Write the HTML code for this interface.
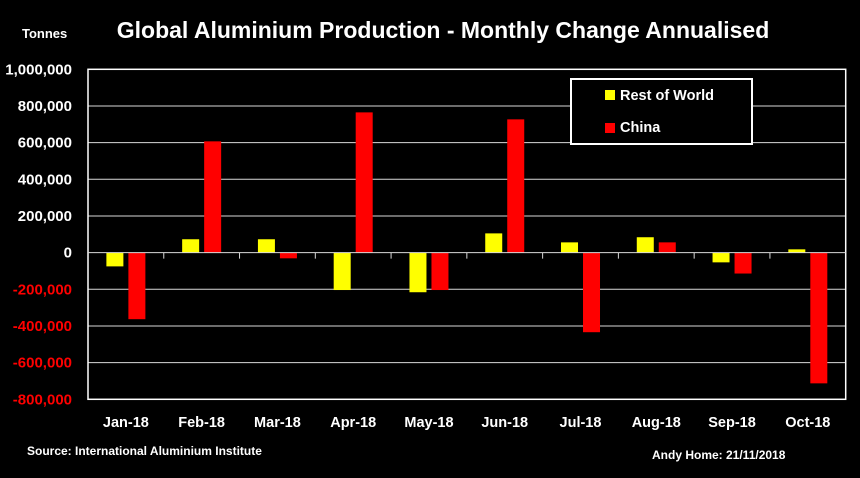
<!DOCTYPE html>
<html><head><meta charset="utf-8"><style>
html,body{margin:0;padding:0;background:#000;}
body{width:860px;height:473px;overflow:hidden;font-family:"Liberation Sans",sans-serif;}
svg text{font-family:"Liberation Sans",sans-serif;font-weight:bold;}
</style></head><body>
<svg id="chart" width="860" height="473" viewBox="0 0 860 473" xmlns="http://www.w3.org/2000/svg">
<rect width="860" height="473" fill="#000"/>
<text x="443" y="38" text-anchor="middle" fill="#fff" font-size="23">Global Aluminium Production - Monthly Change Annualised</text>
<text x="22" y="38" fill="#fff" font-size="13">Tonnes</text>
<g id="grid"></g>
<g id="bars"></g>
<rect x="88" y="69.3" width="757.7" height="330" fill="none" stroke="#fff" stroke-width="1.5"/>
<g id="ticks"></g>
<g>
<rect x="571" y="79" width="181" height="65" fill="#000" stroke="#fff" stroke-width="2"/>
<rect x="605" y="90" width="10" height="10" fill="#ffff00"/>
<text x="620" y="100" fill="#fff" font-size="14.5">Rest of World</text>
<rect x="605" y="123" width="10" height="10" fill="#ff0000"/>
<text x="620" y="132" fill="#fff" font-size="14.5">China</text>
</g>
<text x="27" y="455" fill="#fff" font-size="12">Source: International Aluminium Institute</text>
<text x="652" y="459" fill="#fff" font-size="12">Andy Home: 21/11/2018</text>
</svg>
<script>
const categories = ["Jan-18","Feb-18","Mar-18","Apr-18","May-18","Jun-18","Jul-18","Aug-18","Sep-18","Oct-18"];
const restOfWorld = [-75000,73000,73000,-204000,-216000,105000,56000,84000,-53000,18000];
const china = [-363000,607000,-31000,765000,-204000,727000,-434000,56000,-114000,-713000];
const yTicks = [1000000,800000,600000,400000,200000,0,-200000,-400000,-600000,-800000];
const yTickLabels = ["1,000,000","800,000","600,000","400,000","200,000","0","-200,000","-400,000","-600,000","-800,000"];

const NS="http://www.w3.org/2000/svg";
const X0=88, X1=845.7, YTOP=69.3, YBOT=399.3, VMAX=1000000, VMIN=-800000;
const y = v => YTOP + (VMAX - v) / (VMAX - VMIN) * (YBOT - YTOP);
const band = (X1 - X0) / categories.length;
const xc = i => X0 + band * (i + 0.5);
function mk(tag, attrs){const e=document.createElementNS(NS,tag);for(const k in attrs)e.setAttribute(k,attrs[k]);return e;}
const grid=document.getElementById('grid'), bars=document.getElementById('bars'), ticks=document.getElementById('ticks');
yTicks.forEach((t,i)=>{
  if(t!==0 && t!==VMAX && t!==VMIN){
    const l=mk('line',{x1:X0,x2:X1,y1:y(t),y2:y(t),stroke:'#d9d9d9','stroke-width':1});
    
    
    grid.appendChild(l);
  }
  const tx=mk('text',{x:72,y:y(t)+5,'text-anchor':'end','font-size':15,fill:t<0?'#ff0000':'#fff'});
  tx.textContent=yTickLabels[i];
  
  
  ticks.appendChild(tx);
});
const BW=17, OFF=11;
categories.forEach((c,i)=>{
  [[restOfWorld[i],'#ffff00',-OFF,'bar-rest-of-world'],[china[i],'#ff0000',OFF,'bar-china']].forEach(([v,col,o,name])=>{
    const top=Math.min(y(v),y(0)), h=Math.abs(y(v)-y(0));
    const r=mk('rect',{x:xc(i)+o-BW/2,y:top,width:BW,height:h,fill:col});
    
    
    bars.appendChild(r);
  });
  const tx=mk('text',{x:xc(i),y:427,'text-anchor':'middle','font-size':14.5,fill:'#fff'});
  tx.textContent=c;
  
  
  ticks.appendChild(tx);
  if(i>0){
    const tk=mk('line',{x1:X0+band*i,x2:X0+band*i,y1:y(0),y2:y(0)+6,stroke:'#d9d9d9','stroke-width':1});
    
    
    ticks.appendChild(tk);
  }
});
const zl=mk('line',{x1:X0,x2:X1,y1:y(0),y2:y(0),stroke:'#d9d9d9','stroke-width':1});


ticks.appendChild(zl);
</script>
</body></html>
